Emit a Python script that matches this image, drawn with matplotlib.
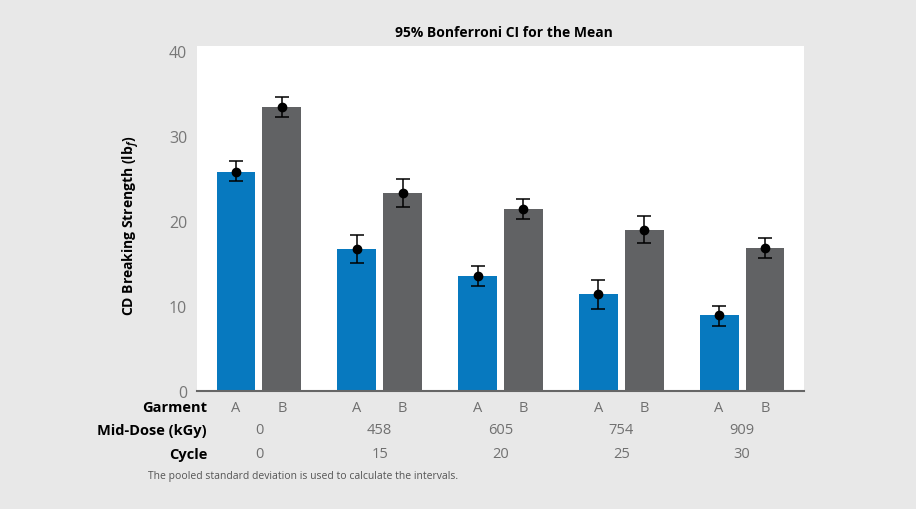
import matplotlib.pyplot as plt
import matplotlib.transforms as mtransforms
import numpy as np

# data
garments = ['A', 'B']
doses = ['0', '458', '605', '754', '909']
cycles = ['0', '15', '20', '25', '30']

mean_a = [25.8, 16.7, 13.5, 11.4, 8.9]
low_a = [24.7, 15.1, 12.3, 9.7, 7.7]
high_a = [27.1, 18.3, 14.7, 13.1, 10.0]

mean_b = [33.4, 23.3, 21.4, 19.0, 16.8]
low_b = [32.3, 21.7, 20.2, 17.4, 15.6]
high_b = [34.6, 25.0, 22.6, 20.6, 18.0]

blue = '#0779bf'
grey = '#616264'
bg = '#e8e8e8'
label_grey = '#707070'

plt.rcParams['font.family'] = ['Open Sans', 'DejaVu Sans']
plt.rcParams['mathtext.fontset'] = 'custom'
plt.rcParams['mathtext.it'] = 'Open Sans:italic:bold'
plt.rcParams['mathtext.rm'] = 'Open Sans:bold'

fig = plt.figure(figsize=(9.16, 5.10), dpi=100, facecolor=bg)
ax = fig.add_axes([197 / 916, 118 / 510, 607 / 916, 345 / 510])
ax.set_facecolor('white')

x = np.arange(len(doses))
off = 0.19
width = 0.322

for xs, m, lo, hi, col in [(x - off, mean_a, low_a, high_a, blue),
                           (x + off, mean_b, low_b, high_b, grey)]:
    m = np.array(m)
    ax.bar(xs, m, width=width, color=col, zorder=2)
    err = [m - np.array(lo), np.array(hi) - m]
    ax.errorbar(xs, m, yerr=err, fmt='o', color='black', markersize=6,
                elinewidth=1.1, capsize=5, capthick=1.1, zorder=3)

ax.set_xlim(-0.513, 4.513)
ax.set_ylim(0, 40.6)
ax.set_yticks([0, 10, 20, 30, 40])
ax.tick_params(axis='y', length=0, pad=7, labelsize=11.5, labelcolor='#777777')
ax.set_xticks([])
for s in ['top', 'right', 'left']:
    ax.spines[s].set_visible(False)
ax.spines['bottom'].set_color('#666666')
ax.spines['bottom'].set_linewidth(1.5)

ax.set_title('95% Bonferroni CI for the Mean', fontsize=10, fontweight='bold', pad=7, x=0.506)
ax.set_ylabel('CD Breaking Strength (lb$_{f}$)', fontsize=10, fontweight='bold')
ax.yaxis.set_label_coords(-0.09, 0.48)

# table of categories below the axis
trans = mtransforms.blended_transform_factory(ax.transData, fig.transFigure)
rows_y = [1 - 408 / 510, 1 - 431 / 510, 1 - 455 / 510]
row_names = ['Garment', 'Mid-Dose (kGy)', 'Cycle']
for name, yy in zip(row_names, rows_y):
    fig.text(207 / 916, yy, name, ha='right', va='center', fontsize=10.5,
             fontweight='bold', color='black')

for i in x:
    ax.text(i - off, rows_y[0], garments[0], transform=trans, ha='center', va='center',
            fontsize=10.5, color=label_grey)
    ax.text(i + off, rows_y[0], garments[1], transform=trans, ha='center', va='center',
            fontsize=10.5, color=label_grey)
    ax.text(i, rows_y[1], doses[i], transform=trans, ha='center', va='center',
            fontsize=10.5, color=label_grey)
    ax.text(i, rows_y[2], cycles[i], transform=trans, ha='center', va='center',
            fontsize=10.5, color=label_grey)

fig.text(148 / 916, 1 - 477 / 510, 'The pooled standard deviation is used to calculate the intervals.',
         ha='left', va='center', fontsize=7.5, color='#555555')

fig.savefig('out.png', dpi=100, facecolor=bg)
